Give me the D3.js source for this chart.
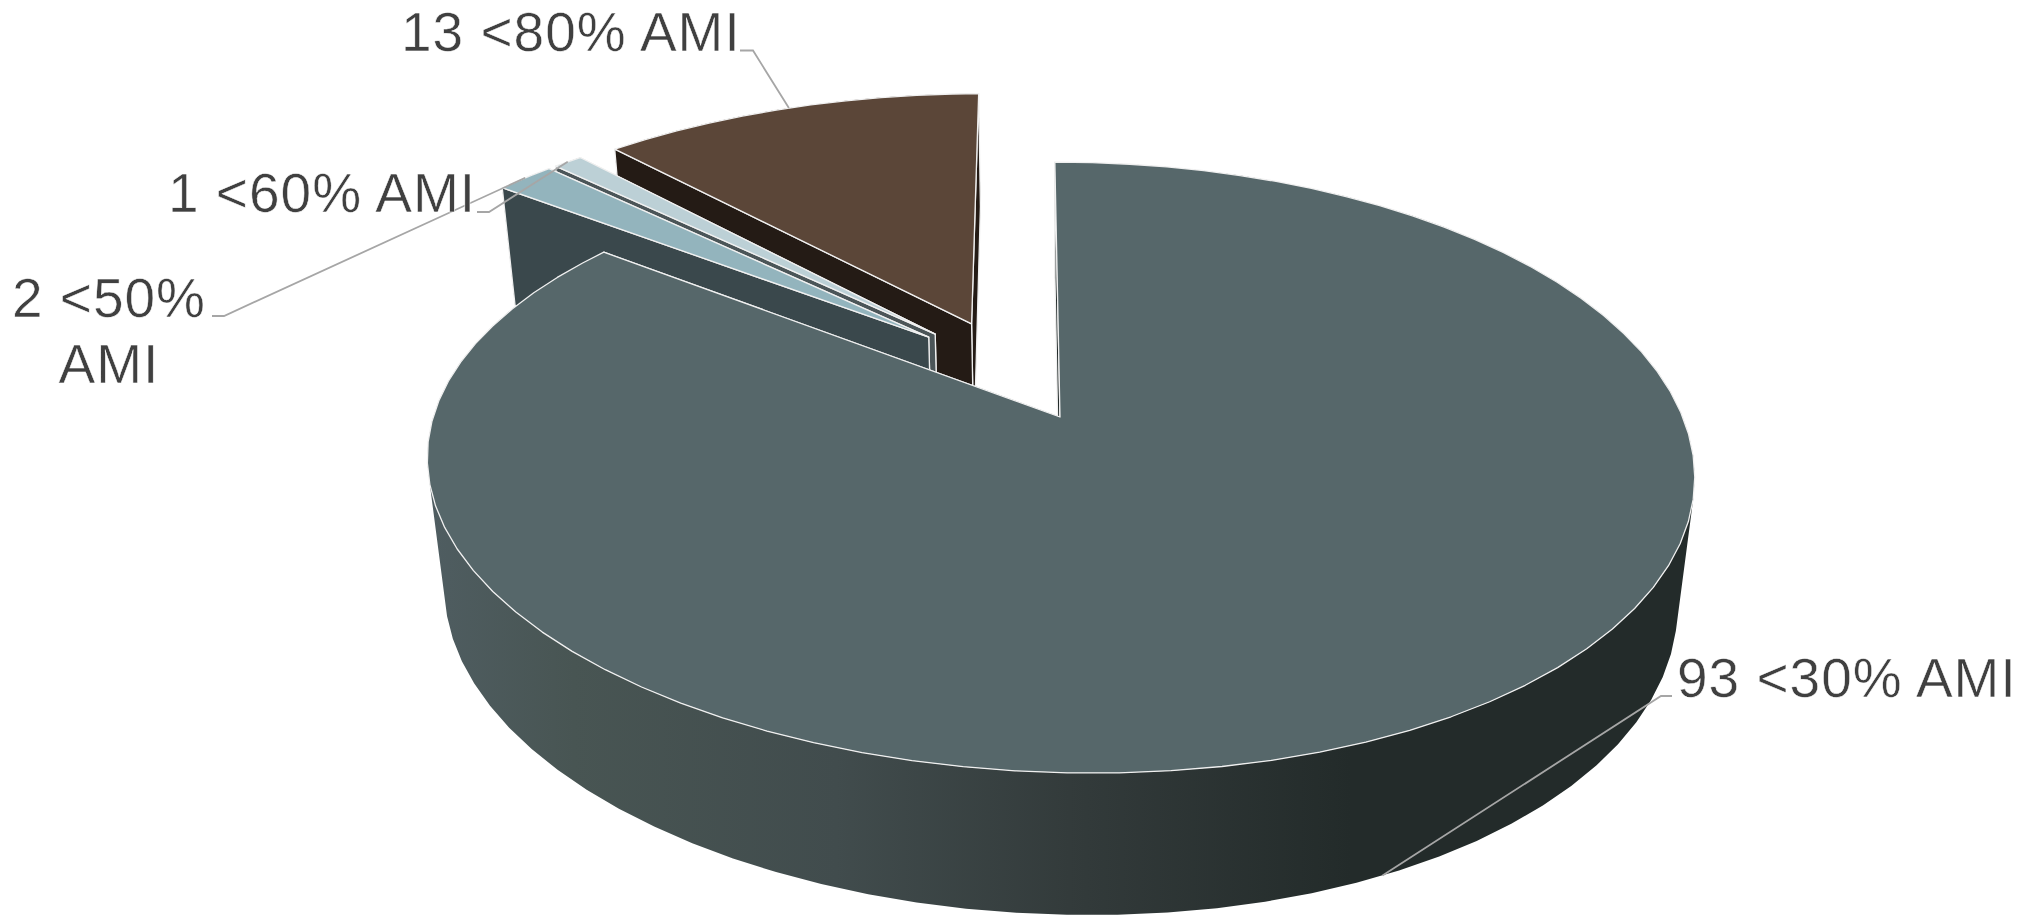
<!DOCTYPE html>
<html>
<head>
<meta charset="utf-8">
<script src="https://cdn.jsdelivr.net/npm/d3@7"></script>
<style>
  html, body { margin: 0; padding: 0; background: #fff; overflow: hidden; }
  text { font-family: "Liberation Sans", sans-serif; fill: #404040; stroke: #fff; stroke-width: 0.5; letter-spacing: 1px; }
</style>
</head>
<body>
<div id="chart"></div>
<script>
var categories = ["<30% AMI", "<50% AMI", "<60% AMI", "<80% AMI"];
var counts = [93, 2, 1, 13];
var topColors = ["#56676a", "#93b4bd", "#bcd0d6", "#5b4638"];
var wallColors = ["#232b2a", "#3a484c", "#4b5558", "#241b15"];
var wallGradientStops = ["#4f5d61", "#485553", "#414c4d", "#333b3b", "#232b2a"];
var wallGradientOffsets = [0, 0.15, 0.42, 0.66, 0.95];

var width = 2030, height = 915;

// perspective settings of the tilted pie
var view = {x: 1060, y: 417, rx: 625, ry: 297, p: 0.1653, depth: 132, d: 0.027,
            shear: 6, tilt: 6, explode: 0.18};

var fontSize = 55;
var edgeColor = "#f0f0f0";

// where each label sits, same order as categories
var labelLines = [["93 <30% AMI"], ["2 <50%", "AMI"], ["1 <60% AMI"], ["13 <80% AMI"]];
var labelX = [1677, 109, 168, 401];
var labelY = [697, 317, 212, 51];
var labelAnchor = ["start", "middle", "start", "start"];
var elbowStart = [[1672, 696], [212, 316], [477, 212], [740, 50.5]];
var elbowEnd = [[1661, 696], [224, 316], [489, 212], [753, 50.5]];

var svg = d3.select("#chart").append("svg")
    .attr("width", width)
    .attr("height", height);

var slices = d3.pie().sort(null)(counts);

function dir(a) { return [Math.sin(a), -Math.cos(a)]; }

var firstMid = dir((slices[0].startAngle + slices[0].endAngle) / 2);

slices.forEach(function(s) {
    var m = dir((s.startAngle + s.endAngle) / 2);
    s.ox = view.explode * (m[0] - firstMid[0]);
    s.oy = view.explode * (m[1] - firstMid[1]);
});

// u, v on the pie plane, z = 0 top face, z = 1 bottom face
function project(u, v, z) {
    var w = 1 - view.p * v + view.d * z;
    return [
        view.x + (view.rx * u + view.shear * v) / w,
        view.y + (view.ry * v + view.depth * z + view.tilt * u * (1 + v)) / w
    ];
}

function rim(s, a, z) {
    var m = dir(a);
    return project(s.ox + m[0], s.oy + m[1], z);
}

function arcAngles(s) {
    var step = 4 * Math.PI / 180;
    var list = d3.range(s.startAngle, s.endAngle, step);
    list.push(s.endAngle);
    return list;
}

var line = d3.line().curve(d3.curveLinearClosed);

var grad = svg.append("defs").append("linearGradient")
    .attr("id", "mainWall")
    .attr("gradientUnits", "userSpaceOnUse")
    .attr("x1", 428).attr("x2", 1400)
    .attr("y1", 0).attr("y2", 0);

grad.selectAll("stop")
    .data(wallGradientStops)
    .enter().append("stop")
    .attr("offset", function(d, i) { return wallGradientOffsets[i]; })
    .attr("stop-color", function(d) { return d; });

// back slices first, the big one last
var drawOrder = [3, 2, 1, 0];

drawOrder.forEach(function(i) {
    var s = slices[i];
    var g = svg.append("g").attr("class", "slice");
    var angles = arcAngles(s);

    // outer wall, all the quads in one path so there are no seams
    var wall = d3.pairs(angles).map(function(p) {
        var q = [rim(s, p[0], 0), rim(s, p[1], 0), rim(s, p[1], 1), rim(s, p[0], 1)];
        // keep every quad wound the same way, front and back of the rim turn opposite
        if (d3.polygonArea(q) < 0) q.reverse();
        return line(q);
    }).join("");

    g.append("path")
        .attr("d", wall)
        .attr("fill", i === 0 ? "url(#mainWall)" : wallColors[i]);

    // end face first, the start face is the one that shows
    [s.endAngle, s.startAngle].forEach(function(a) {
        var face = [
            project(s.ox, s.oy, 0),
            rim(s, a, 0),
            rim(s, a, 1),
            project(s.ox, s.oy, 1)
        ];
        g.append("path")
            .attr("d", line(face))
            .attr("fill", wallColors[i])
            .attr("stroke", edgeColor)
            .attr("stroke-width", 1.3)
            .attr("stroke-linejoin", "round");
    });

    var top = [project(s.ox, s.oy, 0)].concat(angles.map(function(a) { return rim(s, a, 0); }));

    g.append("path")
        .attr("d", line(top))
        .attr("fill", topColors[i])
        .attr("stroke", edgeColor)
        .attr("stroke-width", 1.3)
        .attr("stroke-linejoin", "round");
});

// leader lines go to the middle of each slice's rim
slices.forEach(function(s, i) {
    var anchor = rim(s, (s.startAngle + s.endAngle) / 2, i === 0 ? 1 : 0);
    svg.append("path")
        .attr("d", d3.line()([elbowStart[i], elbowEnd[i], anchor]))
        .attr("fill", "none")
        .attr("stroke", "#a6a6a6")
        .attr("stroke-width", 1.8);
});

categories.forEach(function(c, i) {
    var t = svg.append("text")
        .attr("class", "label")
        .attr("x", labelX[i])
        .attr("y", labelY[i])
        .attr("text-anchor", labelAnchor[i])
        .attr("font-size", fontSize);
    labelLines[i].forEach(function(l, j) {
        t.append("tspan")
            .attr("x", labelX[i])
            .attr("dy", j === 0 ? 0 : 66)
            .text(l);
    });
});
</script>
</body>
</html>
